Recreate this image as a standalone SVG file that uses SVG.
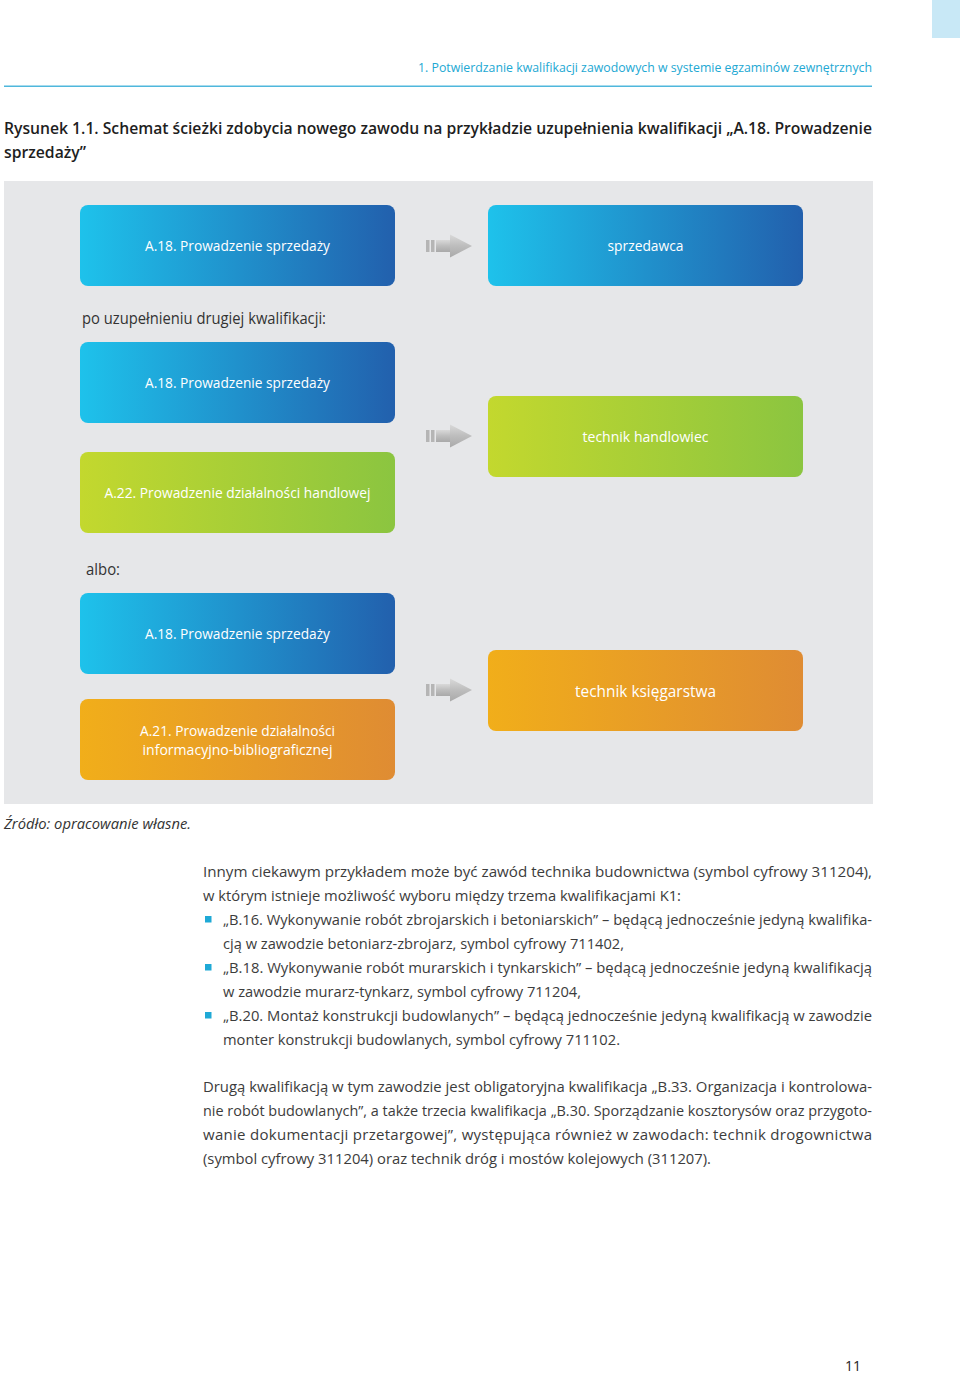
<svg xmlns="http://www.w3.org/2000/svg" width="960" height="1374" viewBox="0 0 960 1374">
<defs>
<linearGradient id="gBlue" x1="0" y1="0" x2="1" y2="0"><stop offset="0" stop-color="#1ec2eb"/><stop offset="1" stop-color="#2260ad"/></linearGradient>
<linearGradient id="gGreen" x1="0" y1="0" x2="1" y2="0"><stop offset="0" stop-color="#c3d82e"/><stop offset="1" stop-color="#8bc540"/></linearGradient>
<linearGradient id="gOrange" x1="0" y1="0" x2="1" y2="0"><stop offset="0" stop-color="#f1ae1a"/><stop offset="1" stop-color="#df8c33"/></linearGradient>
<linearGradient id="gArrow" x1="0" y1="0" x2="0" y2="1"><stop offset="0" stop-color="#d9d9d9"/><stop offset="0.5" stop-color="#bdbdbd"/><stop offset="1" stop-color="#a9a9a9"/></linearGradient>
<g id="arrow">
<rect x="0" y="-6" width="3.5" height="12" fill="#b5b5b5"/>
<rect x="5" y="-6" width="3.5" height="12" fill="#b5b5b5"/>
<rect x="10" y="-6" width="17" height="12" fill="url(#gArrow)"/>
<polygon points="24,-11.5 46,0 24,11.5" fill="url(#gArrow)"/>
</g>
</defs>
<style>
.box-t{font-family:"Open Sans","Liberation Sans",sans-serif;font-size:14.5px;fill:#ffffff;text-anchor:middle;font-weight:400}
.lbl{font-family:"Open Sans","Liberation Sans",sans-serif;font-size:15.5px;fill:#333333;font-weight:400}
.body{font-family:"Open Sans","Liberation Sans",sans-serif;font-size:15px;fill:#3c3c3c;font-weight:400}
.bul{fill:#1fa9d6}
</style>
<rect x="932" y="0" width="28" height="38" fill="#c8e8f6"/>
<text x="872" y="72" text-anchor="end" font-family="'Open Sans','Liberation Sans',sans-serif" font-size="13" fill="#22a8d3" textLength="454" lengthAdjust="spacingAndGlyphs">1. Potwierdzanie kwalifikacji zawodowych w systemie egzaminów zewnętrznych</text>
<rect x="4" y="85.5" width="868" height="1.5" fill="#4fb7dc"/>
<text x="4" y="134" font-family="'Open Sans','Liberation Sans',sans-serif" font-size="16" font-weight="600" fill="#1e1e1e" textLength="868" lengthAdjust="spacingAndGlyphs">Rysunek 1.1.  Schemat ścieżki zdobycia nowego zawodu na przykładzie uzupełnienia kwalifikacji „A.18. Prowadzenie</text>
<text x="4" y="158" font-family="'Open Sans','Liberation Sans',sans-serif" font-size="16" font-weight="600" fill="#1e1e1e" textLength="82" lengthAdjust="spacingAndGlyphs">sprzedaży”</text>
<rect id="panel" x="4" y="181" width="869" height="623" fill="#e6e7e9"/>
<g id="connectors">
<use href="#arrow" x="426" y="246"/>
<use href="#arrow" x="426" y="436"/>
<use href="#arrow" x="426" y="690"/>
</g>
<g id="n-a18-1"><rect x="80" y="205" width="315" height="81" rx="8" fill="url(#gBlue)"/><text class="box-t" x="237.5" y="251" textLength="185" lengthAdjust="spacingAndGlyphs">A.18. Prowadzenie sprzedaży</text></g>
<g id="n-sprzedawca"><rect x="488" y="205" width="315" height="81" rx="8" fill="url(#gBlue)"/><text class="box-t" x="645.5" y="251" textLength="76" lengthAdjust="spacingAndGlyphs">sprzedawca</text></g>
<text class="lbl" x="82" y="324" textLength="244" lengthAdjust="spacingAndGlyphs">po uzupełnieniu drugiej kwalifikacji:</text>
<g id="n-a18-2"><rect x="80" y="342" width="315" height="81" rx="8" fill="url(#gBlue)"/><text class="box-t" x="237.5" y="388" textLength="185" lengthAdjust="spacingAndGlyphs">A.18. Prowadzenie sprzedaży</text></g>
<g id="n-handlowiec"><rect x="488" y="396" width="315" height="81" rx="8" fill="url(#gGreen)"/><text class="box-t" x="645.5" y="442" textLength="126" lengthAdjust="spacingAndGlyphs">technik handlowiec</text></g>
<g id="n-a22"><rect x="80" y="452" width="315" height="81" rx="8" fill="url(#gGreen)"/><text class="box-t" x="237.5" y="498" textLength="266" lengthAdjust="spacingAndGlyphs">A.22. Prowadzenie działalności handlowej</text></g>
<text class="lbl" x="86" y="575" textLength="34" lengthAdjust="spacingAndGlyphs">albo:</text>
<g id="n-a18-3"><rect x="80" y="593" width="315" height="81" rx="8" fill="url(#gBlue)"/><text class="box-t" x="237.5" y="639" textLength="185" lengthAdjust="spacingAndGlyphs">A.18. Prowadzenie sprzedaży</text></g>
<g id="n-ksiegarstwa"><rect x="488" y="650" width="315" height="81" rx="8" fill="url(#gOrange)"/><text class="box-t" x="645.5" y="697" style="font-size:16px" textLength="141" lengthAdjust="spacingAndGlyphs">technik księgarstwa</text></g>
<g id="n-a21"><rect x="80" y="699" width="315" height="81" rx="8" fill="url(#gOrange)"/><text class="box-t" x="237.5" y="736" textLength="195" lengthAdjust="spacingAndGlyphs">A.21. Prowadzenie działalności</text><text class="box-t" x="237.5" y="755" textLength="190" lengthAdjust="spacingAndGlyphs">informacyjno-bibliograficznej</text></g>
<text x="4" y="829" font-family="'Open Sans','Liberation Sans',sans-serif" font-size="15" font-style="italic" font-weight="400" fill="#333" textLength="187" lengthAdjust="spacingAndGlyphs">Źródło: opracowanie własne.</text>
<g id="body">
<text class="body" x="203" y="877" textLength="669" lengthAdjust="spacingAndGlyphs">Innym ciekawym przykładem może być zawód technika budownictwa (symbol cyfrowy 311204),</text>
<text class="body" x="203" y="901" textLength="478" lengthAdjust="spacingAndGlyphs">w którym istnieje możliwość wyboru między trzema kwalifikacjami K1:</text>
<rect class="bul" x="205" y="916" width="6.5" height="6.5"/>
<text class="body" x="223" y="925" textLength="649" lengthAdjust="spacingAndGlyphs">„B.16. Wykonywanie robót zbrojarskich i betoniarskich” – będącą jednocześnie jedyną kwalifika-</text>
<text class="body" x="223" y="949" textLength="401" lengthAdjust="spacingAndGlyphs">cją w zawodzie betoniarz-zbrojarz, symbol cyfrowy 711402,</text>
<rect class="bul" x="205" y="964" width="6.5" height="6.5"/>
<text class="body" x="223" y="973" textLength="649" lengthAdjust="spacingAndGlyphs">„B.18. Wykonywanie robót murarskich i tynkarskich” – będącą jednocześnie jedyną kwalifikacją</text>
<text class="body" x="223" y="997" textLength="358" lengthAdjust="spacingAndGlyphs">w zawodzie murarz-tynkarz, symbol cyfrowy 711204,</text>
<rect class="bul" x="205" y="1012" width="6.5" height="6.5"/>
<text class="body" x="223" y="1021" textLength="649" lengthAdjust="spacingAndGlyphs">„B.20. Montaż konstrukcji budowlanych” – będącą jednocześnie jedyną kwalifikacją w zawodzie</text>
<text class="body" x="223" y="1045" textLength="397" lengthAdjust="spacingAndGlyphs">monter konstrukcji budowlanych, symbol cyfrowy 711102.</text>
<text class="body" x="203" y="1092" textLength="669" lengthAdjust="spacingAndGlyphs">Drugą kwalifikacją w tym zawodzie jest obligatoryjna kwalifikacja „B.33. Organizacja i kontrolowa-</text>
<text class="body" x="203" y="1116" textLength="669" lengthAdjust="spacingAndGlyphs">nie robót budowlanych”, a także trzecia kwalifikacja „B.30. Sporządzanie kosztorysów oraz przygoto-</text>
<text class="body" x="203" y="1140" textLength="669" lengthAdjust="spacing">wanie dokumentacji przetargowej”, występująca również w zawodach: technik drogownictwa</text>
<text class="body" x="203" y="1164" textLength="508" lengthAdjust="spacingAndGlyphs">(symbol cyfrowy 311204) oraz technik dróg i mostów kolejowych (311207).</text>
</g>
<text x="845" y="1371" font-family="'Open Sans','Liberation Sans',sans-serif" font-size="14" fill="#222" textLength="16" lengthAdjust="spacingAndGlyphs">11</text>
</svg>
